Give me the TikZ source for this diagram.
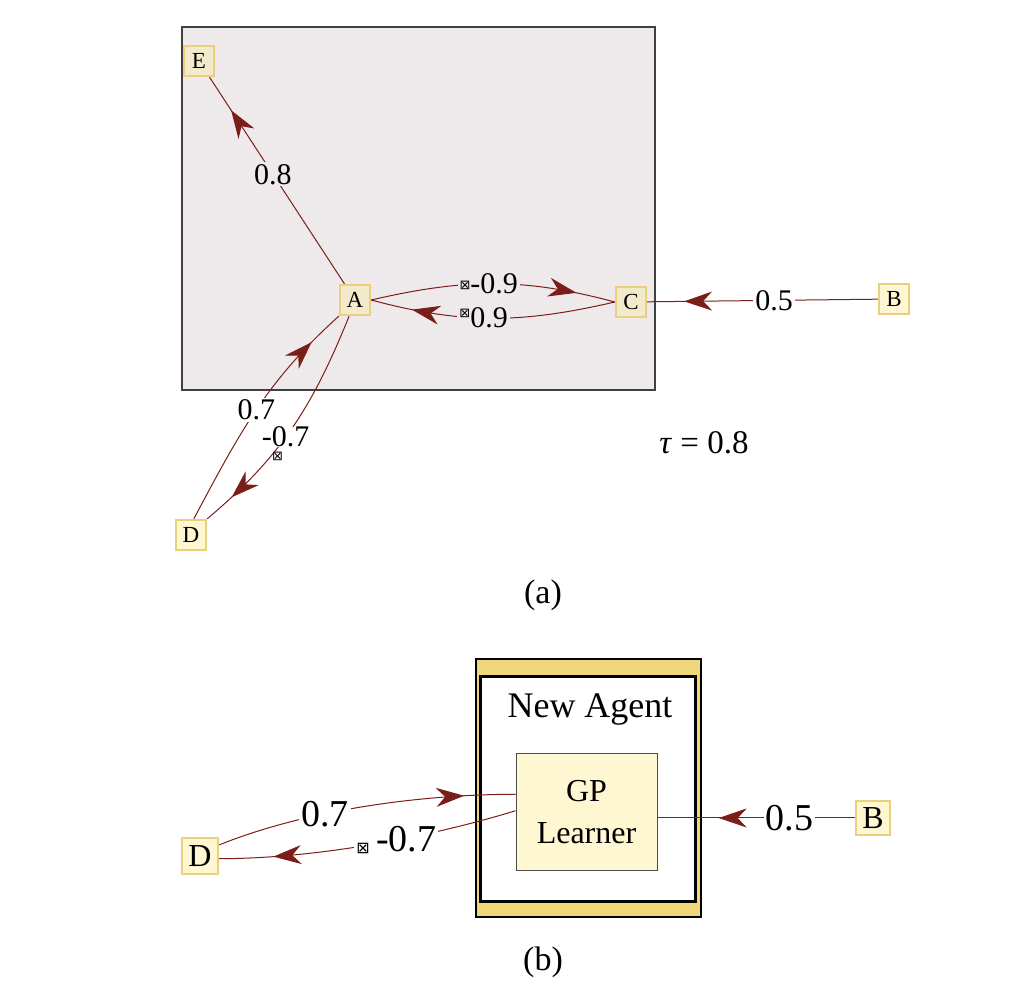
\documentclass[tikz,border=0pt]{standalone}
\usepackage{fontspec}
\setmainfont{Liberation Serif}
\newfontfamily\symfont{DejaVu Sans}
\usetikzlibrary{arrows.meta,decorations.markings,positioning}

\definecolor{edgered}{HTML}{7B1E19}
\definecolor{boxgray}{HTML}{EEE9EB}
\definecolor{agentrim}{HTML}{E8D07E}
\definecolor{agentin}{HTML}{F3EACB}
\definecolor{agentout}{HTML}{FEF7D2}
\definecolor{bandyellow}{HTML}{F0D87A}

\newcommand{\missbox}{{\symfont\fontsize{6.5}{6.5}\selectfont ⊠}}

\tikzstyle{agent} = [draw=agentrim, fill=agentin, line width=1.2pt, minimum size=15pt, inner sep=0pt, font=\fontsize{11.5}{11.5}\selectfont]
\tikzstyle{agentb} = [agent, fill=agentout]
\tikzset{
    link/.style={draw=edgered, line width=0.5pt},
    midarrow/.style={postaction={decorate}, decoration={markings,
        mark=at position #1 with {\arrow[edgered]{Stealth[length=14pt,width=9.5pt,inset=4.5pt]}}}},
    glabel/.style={fill=boxgray, inner sep=1pt, font=\fontsize{15}{15}\selectfont},
    wlabel/.style={glabel, fill=white},
    biglabel/.style={wlabel, font=\fontsize{19}{19}\selectfont}
}

\begin{document}
\begin{tikzpicture}[x=0.5pt, y=0.5pt]
    \useasboundingbox (0,0) rectangle (1030,998);

    % (a)
    \filldraw[fill=boxgray, draw=black!75, line width=0.7pt] (182,608) rectangle (655,971);

    \node [agent] (E) at (199,937) {E};
    \node [agent] (A) at (355,698) {A};
    \node [agent] (C) at (631,696) {C};
    \node [agentb] (B) at (894,699) {B};
    \node [agentb] (D) at (191,463) {D};

    \draw [link, midarrow=0.84] (A) -- node [glabel, pos=0.53] (lae) {0.8} (E);
    \draw [link, midarrow=0.84] (A.east) to [out=13, in=165]
        node [glabel, pos=0.48] (lac) {\raisebox{2pt}{\missbox}-0.9} (C.west);
    \draw [link, midarrow=0.83] (C.west) to [out=193, in=-15]
        node [glabel, pos=0.54] (lca) {\raisebox{5pt}{\missbox}0.9} (A.east);
    \draw [link, midarrow=0.84] (B) -- node [wlabel, pos=0.45] (lbc) {0.5} (C);
    \draw [link, midarrow=0.85] (D.80) to [out=62, in=222]
        node [wlabel, pos=0.5] (lda) {0.7} (A.south west);
    \draw [link, midarrow=0.87] (A.250) to [out=248, in=40]
        node [wlabel, pos=0.55, inner sep=0pt] (lad) {-0.7} (D.north east);
    \node [below=2pt of lad.south, xshift=-4pt, inner sep=0pt] (lbox) {\missbox};

    \node [font=\fontsize{16.5}{16.5}\selectfont] (tau) at (704,555) {\textit{τ} = 0.8};
    \node [font=\fontsize{17}{17}\selectfont] (capa) at (543,403) {(a)};

    % (b)
    \node [draw=black, fill=bandyellow, line width=1pt, minimum width=112.5pt, minimum height=129pt] (outer) at (588.5,210) {};
    \node [draw=black, fill=white, line width=1.5pt, minimum width=107.5pt, minimum height=112.5pt] (inner) at (588,209) {};
    \node [font=\fontsize{18}{18}\selectfont] (title) at (590,288) {New Agent};
    \node [draw=black!70, fill=agentout, line width=0.5pt, minimum width=70.5pt, minimum height=58pt, align=center,
        font=\fontsize{16}{21}\selectfont] (gp) at (586.5,186) {GP\\Learner};

    \node [agentb, minimum size=17pt, font=\fontsize{16}{16}\selectfont] (B2) at (873,180) {B};
    \node [agentb, minimum size=18pt, font=\fontsize{16}{16}\selectfont] (D2) at (200,142) {D};

    \draw [link, midarrow=0.69] (B2) -- node [biglabel, pos=0.33] (lbg) {0.5} (B2 -| gp.east);
    \draw [link, midarrow=0.83] (D2.30) to [out=22, in=180, looseness=0.8]
        node [biglabel, pos=0.37] (ldg) {0.7} (gp.166);
    \draw [link, midarrow=0.82] (gp.179) to [out=197, in=0, looseness=0.8]
        node [biglabel, pos=0.41] (lgd) {\raisebox{-1pt}{\fontsize{8}{8}\symfont ⊠}\,-0.7} (D2.-8);

    \node [font=\fontsize{17}{17}\selectfont] (capb) at (543,36) {(b)};
\end{tikzpicture}
\end{document}
